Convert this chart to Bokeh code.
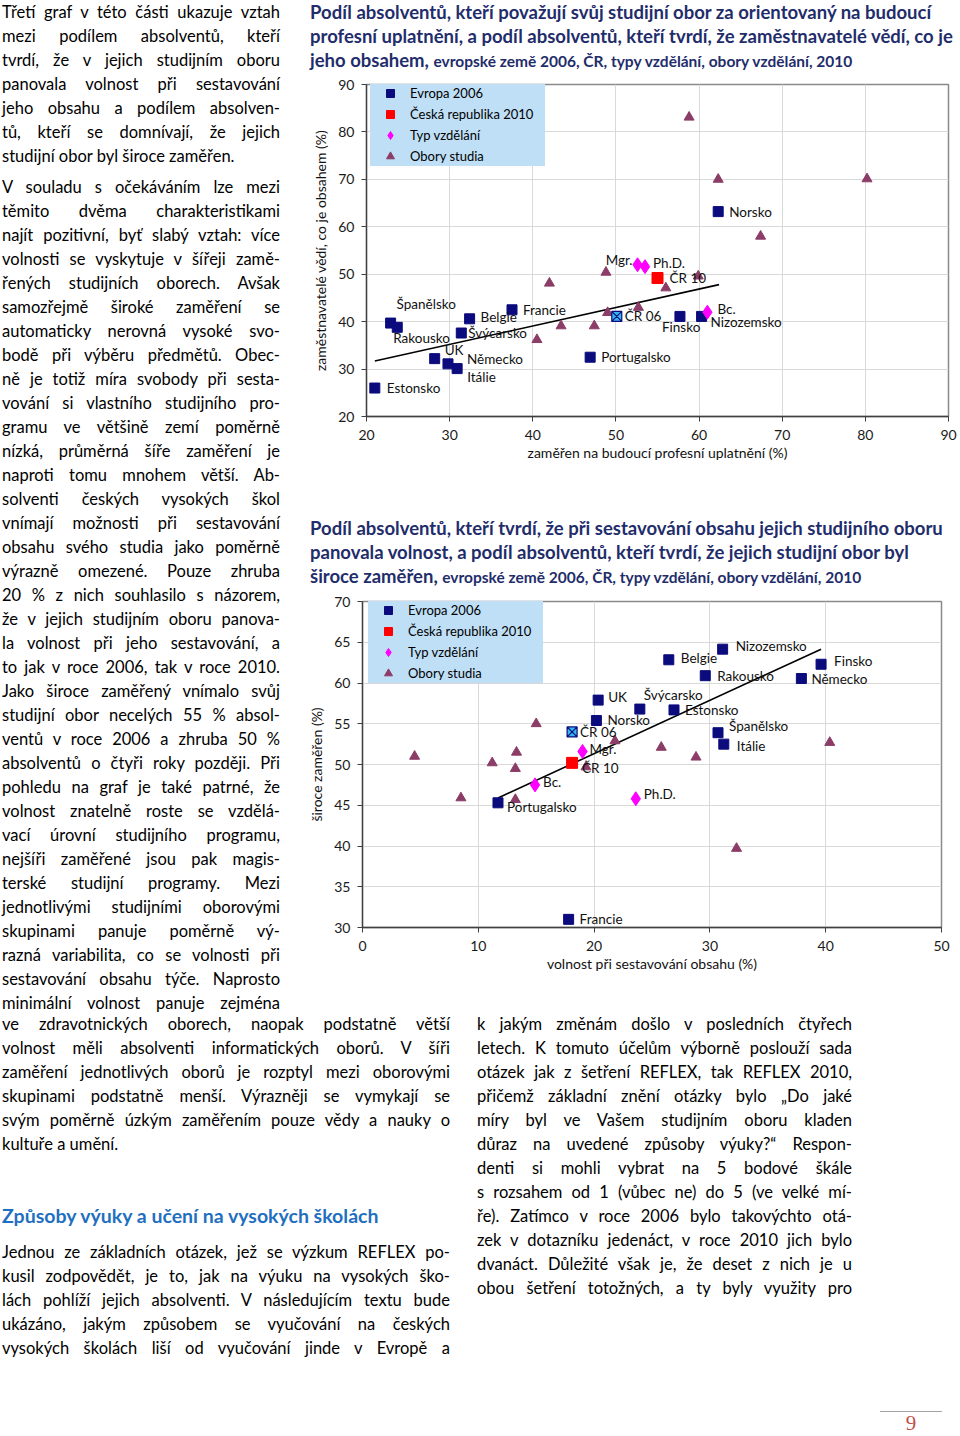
from bokeh.plotting import figure
from bokeh.models import Div, Legend, LegendItem, ColumnDataSource, Range1d, FixedTicker
from bokeh.layouts import row, column
from bokeh.embed import file_html
from bokeh.resources import INLINE
from bokeh.core.properties import value

# ---------------- DATA: chart 1 ----------------
c1_countries = ["Estonsko", "Španělsko", "Rakousko", "UK", "Německo", "Itálie", "Švýcarsko",
                "Belgie", "Francie", "Portugalsko", "Finsko", "Nizozemsko", "Norsko"]
c1_country_x = [21.0, 22.9, 23.7, 28.2, 29.8, 30.9, 31.4, 32.4, 37.5, 46.9, 57.7, 60.3, 62.3]
c1_country_y = [26.0, 39.7, 38.8, 32.2, 31.1, 30.1, 37.6, 40.6, 42.5, 32.5, 41.1, 41.1, 63.2]
c1_cr_labels = ["ČR 06", "ČR 10"]
c1_cr_x = [50.1, 55.0]
c1_cr_y = [41.1, 49.2]
c1_types = ["Bc.", "Mgr.", "Ph.D."]
c1_type_x = [61.0, 52.6, 53.5]
c1_type_y = [42.0, 52.0, 51.6]
c1_field_x = [40.5, 42.0, 43.4, 47.4, 48.8, 49.0, 52.7, 56.0, 58.8, 59.9, 62.3, 67.4, 80.2]
c1_field_y = [36.2, 48.1, 39.1, 39.1, 50.4, 41.9, 43.0, 47.1, 83.1, 49.6, 70.0, 58.0, 70.1]
c1_trend_x = [21.0, 62.4]
c1_trend_y = [31.7, 47.8]
c1_xticks = [20, 30, 40, 50, 60, 70, 80, 90]
c1_yticks = [20, 30, 40, 50, 60, 70, 80, 90]

# ---------------- DATA: chart 2 ----------------
c2_countries = ["UK", "Norsko", "Belgie", "Nizozemsko", "Rakousko", "Finsko", "Německo",
                "Švýcarsko", "Estonsko", "Španělsko", "Itálie", "Portugalsko", "Francie"]
c2_country_x = [20.35, 20.2, 26.45, 31.1, 29.6, 39.6, 37.9, 23.95, 26.9, 30.7, 31.2, 11.7, 17.8]
c2_country_y = [57.9, 55.4, 62.85, 64.15, 60.9, 62.3, 60.55, 56.8, 56.7, 53.9, 52.5, 45.3, 31.0]
c2_cr_labels = ["ČR 06", "ČR 10"]
c2_cr_x = [18.1, 18.1]
c2_cr_y = [54.0, 50.2]
c2_types = ["Bc.", "Mgr.", "Ph.D."]
c2_type_x = [14.9, 19.0, 23.6]
c2_type_y = [47.5, 51.6, 45.8]
c2_field_x = [4.5, 8.5, 11.2, 13.3, 13.2, 13.2, 15.0, 19.3, 21.8, 25.8, 28.8, 32.3, 40.35]
c2_field_y = [51.0, 45.9, 50.2, 51.5, 49.5, 45.7, 55.0, 49.7, 52.9, 52.1, 50.9, 39.7, 52.7]
c2_trend_x = [11.7, 39.6]
c2_trend_y = [45.9, 64.15]
c2_xticks = [0, 10, 20, 30, 40, 50]
c2_yticks = [30, 35, 40, 45, 50, 55, 60, 65, 70]

legend_labels = ["Evropa 2006", "Česká republika 2010", "Typ vzdělání", "Obory studia"]

# ---------------- STYLE (label offsets in screen px) ----------------
OFF1 = {"Estonsko": (12, 0), "Španělsko": (6, -19), "Rakousko": (-4, 11), "UK": (10, -9),
        "Německo": (19, -5), "Itálie": (10, 8), "Švýcarsko": (7, 0), "Belgie": (11, -2),
        "Francie": (11, 0), "Portugalsko": (11, 0), "Finsko": (-18, 11), "Nizozemsko": (9, 6),
        "Norsko": (11, 0), "ČR 06": (8, 0), "ČR 10": (12, 0), "Bc.": (10, -3),
        "Mgr.": (-5, -5), "Ph.D.": (8, -4)}
RIGHT1 = {"Mgr."}
OFF2 = {"UK": (10, -3), "Norsko": (11, 0), "Belgie": (12, -2), "Nizozemsko": (13, -3),
        "Rakousko": (12, 0), "Finsko": (13, -3), "Německo": (10, 0), "Švýcarsko": (4, -14),
        "Estonsko": (11, 0), "Španělsko": (11, -7), "Itálie": (13, 2), "Portugalsko": (9, 4),
        "Francie": (11, 0), "ČR 06": (8, 0), "ČR 10": (10, 5), "Bc.": (8, -3),
        "Mgr.": (7, -2), "Ph.D.": (8, -5)}
RIGHT2 = set()

FONT = "Lato"
NAVY = "#0b0b7d"
RED = "#ff0000"
MAG = "#ff00ff"
TRI = "#8b3c67"
CYAN = "#35b6ee"
LEG_BG = "#bfdff7"
TITLE_C = "#1f2d6b"


def make_chart(width, height, borders, xr, yr, xticks, yticks, xlabel, ylabel,
               countries, cx, cy, crl, crx, cry, types, tx, ty, fx, fy, trx, tr_y,
               offsets, right_set, leg_loc):
    bl, br, bt, bb = borders
    p = figure(width=width, height=height, x_range=Range1d(xr[0], xr[1]),
               y_range=Range1d(yr[0], yr[1]), output_backend="svg", toolbar_location=None,
               min_border_left=bl, min_border_right=br, min_border_top=bt,
               min_border_bottom=bb, margin=0)
    p.frame_align = False
    p.outline_line_color = "#8a8a8a"
    p.outline_line_width = 1.5
    p.xaxis.ticker = FixedTicker(ticks=xticks)
    p.yaxis.ticker = FixedTicker(ticks=yticks)
    p.grid.grid_line_color = "#d9d9d9"
    p.grid.grid_line_width = 1
    for ax in (p.xaxis, p.yaxis):
        ax.axis_line_color = "#404040"
        ax.axis_line_width = 1.3
        ax.major_tick_line_color = "#404040"
        ax.major_tick_out = 5
        ax.major_tick_in = 0
        ax.minor_tick_line_color = None
        ax.major_label_text_font = FONT
        ax.major_label_text_font_size = "14px"
        ax.major_label_text_color = "#1a1a1a"
        ax.axis_label_text_font = FONT
        ax.axis_label_text_font_size = "14px"
        ax.axis_label_text_font_style = "normal"
        ax.axis_label_text_color = "#111111"
    p.yaxis.major_label_standoff = 7
    p.yaxis.axis_label_standoff = 6
    p.xaxis.major_label_standoff = 8
    p.xaxis.axis_label_standoff = 1
    p.xaxis.axis_label = xlabel
    p.yaxis.axis_label = ylabel

    p.line(trx, tr_y, line_color="black", line_width=1.6)
    r_f = p.scatter(fx, fy, marker="triangle", size=10, fill_color=TRI, line_color=TRI)
    r_c = p.scatter(cx, cy, marker="square", size=10, fill_color=NAVY, line_color=NAVY)
    p.scatter(crx[:1], cry[:1], marker="square_x", size=10, fill_color=CYAN,
              line_color=NAVY, line_width=1.2)
    r_10 = p.scatter(crx[1:], cry[1:], marker="square", size=11, fill_color=RED, line_color=RED)
    r_t = p.scatter(tx, ty, marker="diamond", size=14, fill_color=MAG, line_color=MAG)

    labels = list(countries) + list(crl) + list(types)
    lx = list(cx) + list(crx) + list(tx)
    ly = list(cy) + list(cry) + list(ty)
    src = ColumnDataSource(dict(
        x=lx, y=ly, t=labels,
        dx=[offsets[s][0] for s in labels], dy=[offsets[s][1] for s in labels],
        al=["right" if s in right_set else "left" for s in labels]))
    p.text(x="x", y="y", text="t", x_offset="dx", y_offset="dy", text_align="al",
           text_baseline="middle", text_font=value(FONT), text_font_size=value("13.5px"),
           text_color="#111111", source=src)

    leg = Legend(items=[LegendItem(label=legend_labels[0], renderers=[r_c]),
                        LegendItem(label=legend_labels[1], renderers=[r_10]),
                        LegendItem(label=legend_labels[2], renderers=[r_t]),
                        LegendItem(label=legend_labels[3], renderers=[r_f])],
                 location=leg_loc, background_fill_color=LEG_BG, background_fill_alpha=1,
                 border_line_color=None, padding=0, spacing=1, glyph_width=40,
                 glyph_height=20, label_height=20, label_standoff=0, label_width=135,
                 label_text_font=FONT, label_text_font_size="13px",
                 label_text_color="#000000", margin=0)
    p.add_layout(leg)
    return p


p1 = make_chart(660, 394, (66, 12, 8, 54), (20, 90), (20, 90), c1_xticks, c1_yticks,
                "zaměřen na budoucí profesní uplatnění (%)",
                "zaměstnavatelé vědí, co je obsahem (%)",
                c1_countries, c1_country_x, c1_country_y, c1_cr_labels, c1_cr_x, c1_cr_y,
                c1_types, c1_type_x, c1_type_y, c1_field_x, c1_field_y, c1_trend_x, c1_trend_y,
                OFF1, RIGHT1, (4, 250))
p2 = make_chart(660, 419, (62, 19, 11, 82), (0, 50), (30, 70), c2_xticks, c2_yticks,
                "volnost při sestavování obsahu (%)", "široce zaměřen (%)",
                c2_countries, c2_country_x, c2_country_y, c2_cr_labels, c2_cr_x, c2_cr_y,
                c2_types, c2_type_x, c2_type_y, c2_field_x, c2_field_y, c2_trend_x, c2_trend_y,
                OFF2, RIGHT2, (6, 244))

# ---------------- TEXTS ----------------
t1 = ["Podíl absolventů, kteří považují svůj studijní obor za orientovaný na budoucí",
      "profesní uplatnění, a podíl absolventů, kteří tvrdí, že zaměstnavatelé vědí, co je",
      "jeho obsahem,"]
t2 = ["Podíl absolventů, kteří tvrdí, že při sestavování obsahu jejich studijního oboru",
      "panovala volnost, a podíl absolventů, kteří tvrdí, že jejich studijní obor byl",
      "široce zaměřen,"]
t_sub = "evropské země 2006, ČR, typy vzdělání, obory vzdělání, 2010"


def title_html(lines, top):
    return (f'<div style="font-family:{FONT};font-weight:bold;color:{TITLE_C};font-size:18.5px;'
            f'line-height:24px;white-space:nowrap;padding-left:10px;padding-top:{top}px">'
            f'{lines[0]}<br>{lines[1]}<br>{lines[2]} '
            f'<span style="font-size:15.5px">{t_sub}</span></div>')


title1 = Div(text=title_html(t1, 0), width=660, height=76, margin=0)
title2 = Div(text=title_html(t2, 46), width=660, height=120, margin=0)

left_p1 = ["Třetí graf v této části ukazuje vztah",
           "mezi podílem absolventů, kteří",
           "tvrdí, že v jejich studijním oboru",
           "panovala volnost při sestavování",
           "jeho obsahu a podílem absolven-",
           "tů, kteří se domnívají, že jejich",
           "studijní obor byl široce zaměřen."]
left_p2 = ["V souladu s očekáváním lze mezi",
           "těmito dvěma charakteristikami",
           "najít pozitivní, byť slabý vztah: více",
           "volnosti se vyskytuje v šířeji zamě-",
           "řených studijních oborech. Avšak",
           "samozřejmě široké zaměření se",
           "automaticky nerovná vysoké svo-",
           "bodě při výběru předmětů. Obec-",
           "ně je totiž míra svobody při sesta-",
           "vování si vlastního studijního pro-",
           "gramu ve většině zemí poměrně",
           "nízká, průměrná šíře zaměření je",
           "naproti tomu mnohem větší. Ab-",
           "solventi českých vysokých škol",
           "vnímají možnosti při sestavování",
           "obsahu svého studia jako poměrně",
           "výrazně omezené. Pouze zhruba",
           "20 % z nich souhlasilo s názorem,",
           "že v jejich studijním oboru panova-",
           "la volnost při jeho sestavování, a",
           "to jak v roce 2006, tak v roce 2010.",
           "Jako široce zaměřený vnímalo svůj",
           "studijní obor necelých 55 % absol-",
           "ventů v roce 2006 a zhruba 50 %",
           "absolventů o čtyři roky později. Při",
           "pohledu na graf je také patrné, že",
           "volnost znatelně roste se vzdělá-",
           "vací úrovní studijního programu,",
           "nejšíři zaměřené jsou pak magis-",
           "terské studijní programy. Mezi",
           "jednotlivými studijními oborovými",
           "skupinami panuje poměrně vý-",
           "razná variabilita, co se volnosti při",
           "sestavování obsahu týče. Naprosto",
           "minimální volnost panuje zejména"]
bottom_p2 = ["ve zdravotnických oborech, naopak podstatně větší",
             "volnost měli absolventi informatických oborů. V šíři",
             "zaměření jednotlivých oborů je rozptyl mezi oborovými",
             "skupinami podstatně menší. Výrazněji se vymykají se",
             "svým poměrně úzkým zaměřením pouze vědy a nauky o",
             "kultuře a umění."]
heading = "Způsoby výuky a učení na vysokých školách"
bottom_p3 = ["Jednou ze základních otázek, jež se výzkum REFLEX po-",
             "kusil zodpovědět, je to, jak na výuku na vysokých ško-",
             "lách pohlíží jejich absolventi. V následujícím textu bude",
             "ukázáno, jakým způsobem se vyučování na českých",
             "vysokých školách liší od vyučování jinde v Evropě a"]
right_p3 = ["k jakým změnám došlo v posledních čtyřech",
            "letech. K tomuto účelům výborně poslouží sada",
            "otázek jak z šetření REFLEX, tak REFLEX 2010,",
            "přičemž základní znění otázky bylo „Do jaké",
            "míry byl ve Vašem studijním oboru kladen",
            "důraz na uvedené způsoby výuky?“ Respon-",
            "denti si mohli vybrat na 5 bodové škále",
            "s rozsahem od 1 (vůbec ne) do 5 (ve velké mí-",
            "ře). Zatímco v roce 2006 bylo takovýchto otá-",
            "zek v dotazníku jedenáct, v roce 2010 jich bylo",
            "dvanáct. Důležité však je, že deset z nich je u",
            "obou šetření totožných, a ty byly využity pro"]
page_no = "9"

BODY_FS = "16.5px"


def lines_html(lines, last_left, lh, top=0):
    out = []
    for i, ln in enumerate(lines):
        al = "left" if (last_left and i == len(lines) - 1) else "justify"
        mt = f"margin-top:{top}px;" if (i == 0 and top) else ""
        out.append(f'<div style="{mt}text-align:justify;text-align-last:{al};white-space:nowrap;'
                   f'height:{lh}px;line-height:{lh}px">{ln}</div>')
    return "".join(out)


left_html = (f'<div style="font-family:{FONT};font-size:{BODY_FS};color:#000;width:278px;'
             f'margin-left:2px">'
             + lines_html(left_p1, True, 24) + lines_html(left_p2, False, 24, 7) + '</div>')
left_div = Div(text=left_html, width=300, height=1009, margin=0)

bl_html = (f'<div style="font-family:{FONT};font-size:{BODY_FS};color:#000;width:448px;'
           f'margin-left:2px;padding-top:3px">'
           + lines_html(bottom_p2, True, 24)
           + f'<div style="margin-top:48px;height:24px;line-height:24px;font-weight:bold;'
             f'font-size:19.5px;color:#1f6fc1;white-space:nowrap">{heading}</div>'
           + lines_html(bottom_p3, False, 24, 12) + '</div>')
bl_div = Div(text=bl_html, width=477, height=391, margin=0)
br_html = (f'<div style="font-family:{FONT};font-size:{BODY_FS};color:#000;width:375px;'
           f'padding-top:3px">' + lines_html(right_p3, False, 24) + '</div>')
br_div = Div(text=br_html, width=483, height=391, margin=0)

pn_div = Div(text=(f'<div style="margin-left:880px;width:62px;margin-top:11px;'
                   f'border-top:1px solid #a5a5a5;text-align:center;font-family:\'Liberation Serif\';'
                   f'font-size:21px;line-height:22px;color:#c0504d">{page_no}</div>'),
             width=960, height=34, margin=0)

charts = column(title1, p1, title2, p2, spacing=0, margin=0)
top = row(left_div, charts, spacing=0, margin=0)
bottom = row(bl_div, br_div, spacing=0, margin=0)
page = column(top, bottom, pn_div, spacing=0, margin=0)

open("out.html", "w").write(file_html(page, INLINE))
